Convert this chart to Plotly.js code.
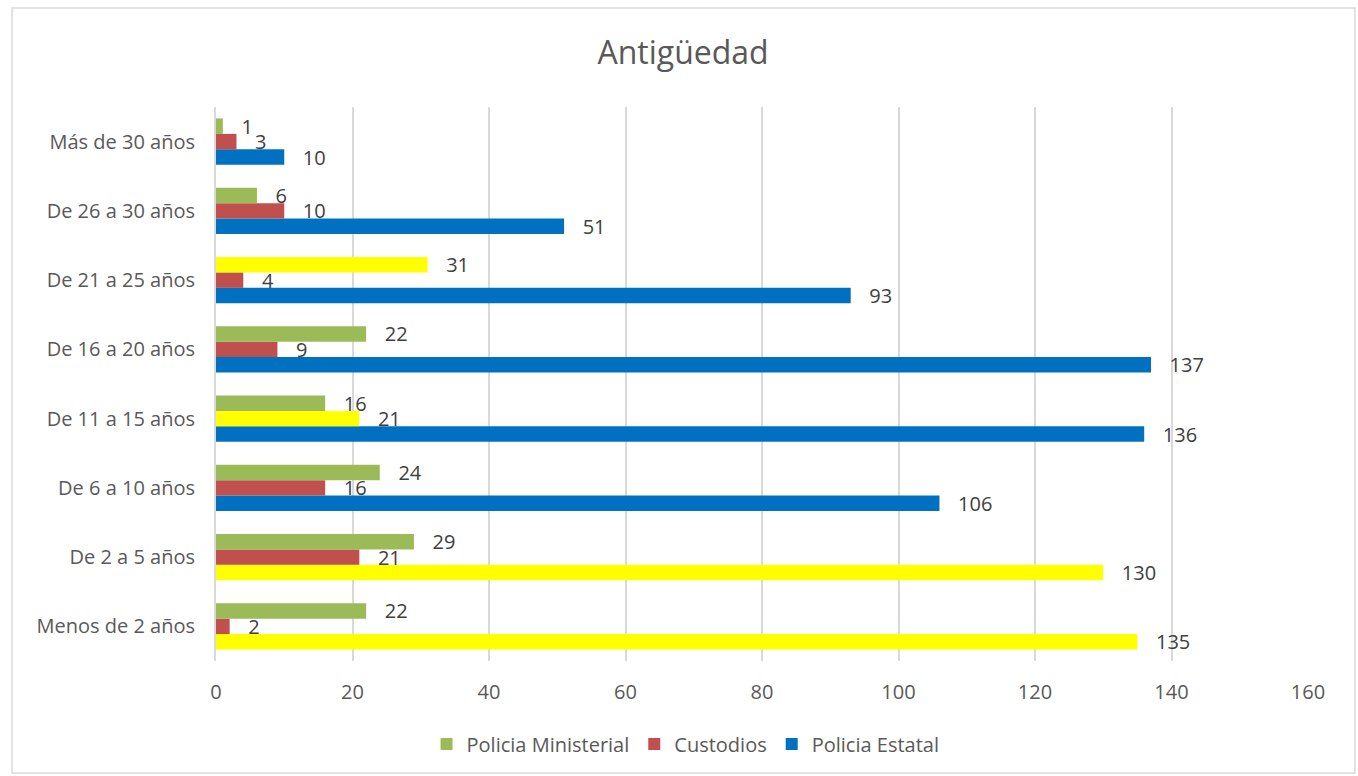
<!DOCTYPE html>
<html>
<head>
<meta charset="utf-8">
<script src="https://cdn.plot.ly/plotly-3.0.1.min.js"></script>
<style>html,body{margin:0;padding:0;background:#fff;}#chart{width:1358px;height:776px;}</style>
</head>
<body>
<div id="chart"></div>
<script>
const categories = ["Menos de 2 años","De 2 a 5 años","De 6 a 10 años","De 11 a 15 años","De 16 a 20 años","De 21 a 25 años","De 26 a 30 años","Más de 30 años"];
const policiaMinisterial = [22, 29, 24, 16, 22, 31, 6, 1];
const custodios = [2, 21, 16, 21, 9, 4, 10, 3];
const policiaEstatal = [135, 130, 106, 136, 137, 93, 51, 10];
const xTicks = [0, 20, 40, 60, 80, 100, 120, 140, 160];

const GREEN = "#9BBB59", RED = "#C0504D", BLUE = "#0070C0", YELLOW = "#FFFF00";
const minColors = ["g","g","g","g","g","y","g","g"].map(c => c === "y" ? YELLOW : GREEN);
const cusColors = ["r","r","r","y","r","r","r","r"].map(c => c === "y" ? YELLOW : RED);
const estColors = ["y","y","b","b","b","b","b","b"].map(c => c === "y" ? YELLOW : BLUE);

const FONT = "'Open Sans', Lato, sans-serif";
const pad = "\u00a0\u00a0\u00a0";
function tr(name, vals, colors, rank) {
  return {
    type: "bar", orientation: "h", name: name,
    x: vals, y: categories,
    marker: {color: colors, line: {width: 0}},
    text: vals.map(v => pad + v),
    textposition: "outside", constraintext: "none", cliponaxis: false,
    textfont: {family: FONT, size: 20, color: "#404040"},
    legendrank: rank, hoverinfo: "x+name"
  };
}
const data = [
  tr("Policia Estatal", policiaEstatal, estColors, 3),
  tr("Custodios", custodios, cusColors, 2),
  tr("Policia Ministerial", policiaMinisterial, minColors, 1)
];

const layout = {
  width: 1358, height: 776,
  margin: {l: 216, r: 50, t: 107, b: 115},
  paper_bgcolor: "#fff", plot_bgcolor: "#fff",
  font: {family: FONT, color: "#595959", size: 20},
  title: {text: "Antigüedad", font: {family: FONT, size: 32, color: "#595959"}, xref: "container", x: 0.503, yref: "container", y: 0.932, yanchor: "middle"},
  barmode: "group", bargap: 0.33, bargroupgap: 0,
  xaxis: {range: [0, 160], tickvals: xTicks, ticktext: xTicks.map(String), showgrid: true, gridcolor: "#D9D9D9", gridwidth: 2, zeroline: false, showline: false, ticks: "", ticklabelstandoff: 17, tickfont: {size: 20, color: "#595959"}, fixedrange: true},
  yaxis: {type: "category", categoryorder: "array", categoryarray: categories, showgrid: false, zeroline: false, showline: true, linecolor: "#D9D9D9", linewidth: 2, ticks: "", ticklabelstandoff: 15, tickfont: {size: 20, color: "#595959"}, fixedrange: true},
  legend: {orientation: "h", x: 0.43, xanchor: "center", y: -0.15, yanchor: "middle", font: {size: 20, color: "#595959"}, traceorder: "normal", itemwidth: 30},
  showlegend: true,
  shapes: [{type: "rect", xref: "paper", yref: "paper", x0: -0.1868, x1: 1.043, y0: -0.2022, y1: 1.1787, line: {color: "#D9D9D9", width: 1.5}, fillcolor: "rgba(0,0,0,0)", layer: "below"}]
};
Plotly.newPlot("chart", data, layout, {displayModeBar: false, staticPlot: true}).then(gd => {
  const base = {"Policia Estatal": BLUE, "Custodios": RED, "Policia Ministerial": GREEN};
  gd.querySelectorAll(".legend .traces").forEach(t => {
    const name = t.querySelector(".legendtext").textContent;
    t.querySelectorAll(".legendpoints path").forEach(p => { p.style.fill = base[name]; });
  });
});
</script>
</body>
</html>
